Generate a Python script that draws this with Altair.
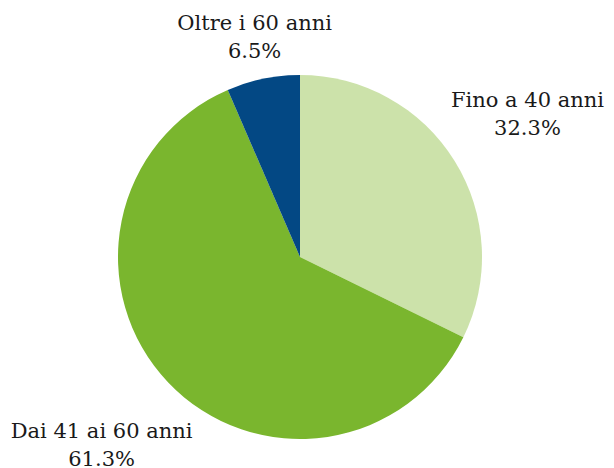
import altair as alt
import pandas as pd

categories = ["Fino a 40 anni", "Dai 41 ai 60 anni", "Oltre i 60 anni"]
values = [32.3, 61.3, 6.5]
pct_labels = ["32.3%", "61.3%", "6.5%"]
colors = ["#cce2aa", "#7ab62e", "#034884"]
label_radius = [268, 274, 224]

df = pd.DataFrame({
    "cat": categories,
    "val": values,
    "pct": pct_labels,
    "idx": list(range(len(categories))),
})
df["label"] = df["cat"] + "\n" + df["pct"]
total = float(sum(values))

CX, CY, R = 292, 249, 182

theta_scale = alt.Scale(domain=[0, total])

base = alt.Chart(df).transform_window(
    cum="sum(val)", sort=[alt.SortField("idx")], frame=[None, 0]
).transform_calculate(
    start="datum.cum - datum.val", mid="datum.cum - datum.val / 2"
)

pie = base.mark_arc(radius=R, x=CX, y=CY).encode(
    theta=alt.Theta("start:Q", scale=theta_scale),
    theta2="cum:Q",
    color=alt.Color("cat:N", scale=alt.Scale(domain=categories, range=colors), legend=None),
)

txt_style = dict(font="DejaVu Serif", fontSize=21, lineHeight=28,
                 color="#1a1a1a", align="center", baseline="middle", x=CX, y=CY, dy=-14)

layers = [pie]
for cat, rad in zip(categories, label_radius):
    layers.append(
        base.transform_calculate(lines="split(datum.label, '\\n')")
        .transform_filter(alt.datum.cat == cat)
        .mark_text(radius=rad, **txt_style)
        .encode(theta=alt.Theta("mid:Q", scale=theta_scale), text="lines:N")
    )

chart = alt.layer(*layers).properties(
    width=598, height=460, padding=0,
    autosize=alt.AutoSizeParams(type="none"),
).configure_view(stroke=None)

chart.save("out.html", embed_options={"renderer": "svg", "actions": False})
